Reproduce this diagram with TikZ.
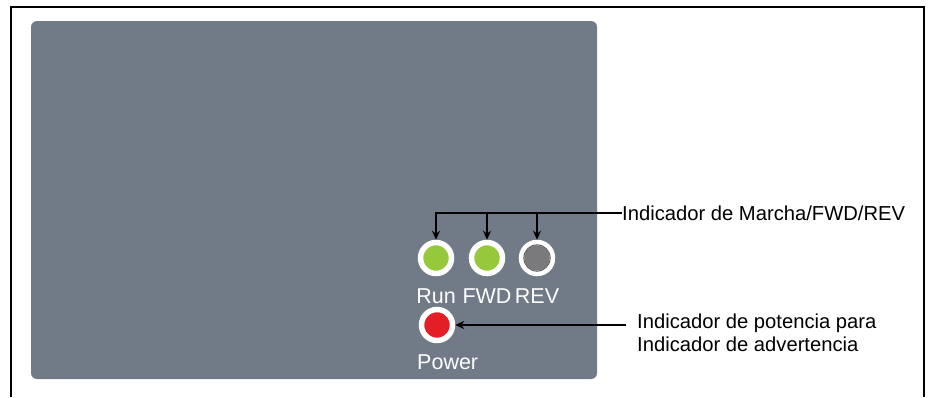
\documentclass[tikz,border=0pt]{standalone}
\usepackage{fontspec}
\setmainfont{Liberation Sans}
\usetikzlibrary{arrows.meta,positioning,calc}
\definecolor{panelgray}{RGB}{112,123,135}
\definecolor{ledgreen}{RGB}{149,200,59}
\definecolor{ledred}{RGB}{228,30,38}
\definecolor{ledgray}{RGB}{122,122,124}
\tikzset{
  ledbase/.style={circle,draw=white,line width=5.5pt,minimum size=31pt,inner sep=0pt},
  greenled/.style={ledbase,fill=ledgreen},
  redled/.style={ledbase,fill=ledred},
  grayled/.style={ledbase,fill=ledgray},
  ledlabel/.style={text=white,font=\fontsize{21.5}{24}\selectfont,inner sep=0pt},
  calltext/.style={font=\fontsize{20.2}{23}\selectfont,align=left,inner sep=0pt},
  arr/.style={-{Stealth[length=9pt,width=8pt]},line width=1.6pt,color=black}
}
\begin{document}
\begin{tikzpicture}[x=1pt,y=-1pt]
  \useasboundingbox (0,0) rectangle (928,397);
  %% Outer frame (open at the bottom)
  \draw[line width=2.5pt] (11,397) -- (11,7) -- (924,7) -- (924,397);

  %% Keypad panel
  \fill[panelgray,rounded corners=6pt] (31,21) rectangle (597,379);

  %% Status LEDs
  \node[greenled] (run) at (436,258) {};
  \node[greenled] (fwd) at (487,258) {};
  \node[grayled]  (rev) at (537,258) {};
  \draw[black!70,line width=0.8pt] (rev.center) circle (13.2pt);
  \node[redled]   (power) at (437,325) {};

  %% LED labels
  \node[ledlabel] (runTxt) at (436,296) {Run};
  \node[ledlabel] (fwdTxt) at (487,296) {FWD};
  \node[ledlabel] (revTxt) at (537,296) {REV};
  \node[ledlabel,anchor=west] (powerTxt) at (417,362) {Power};

  %% Callouts
  \node[calltext,anchor=west] (marchaTxt) at (622,213) {Indicador de Marcha/FWD/REV};
  \node[calltext,anchor=west] (potTxt) at (637,333)
      {Indicador de potencia para\\Indicador de advertencia};
  \coordinate (potEnd) at (626,325);

  \draw[arr] (marchaTxt.west) -| (run.north);
  \draw[arr] (fwd.north |- marchaTxt.west) -- (fwd.north);
  \draw[arr] (rev.north |- marchaTxt.west) -- (rev.north);
  \draw[arr] (potEnd) -- (power.east);
\end{tikzpicture}
\end{document}
